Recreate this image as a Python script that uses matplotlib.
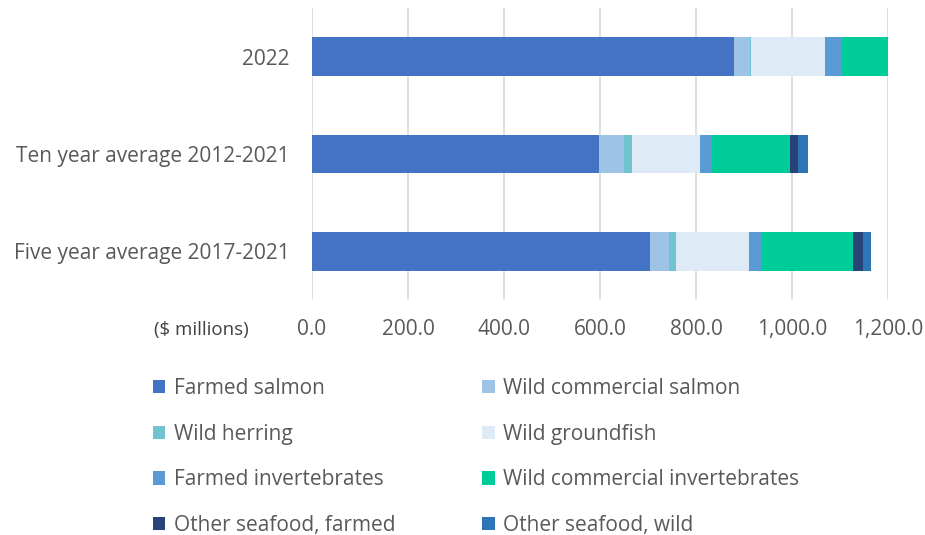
import matplotlib.pyplot as plt
import numpy as np

plt.rcParams['font.family'] = ['Open Sans', 'DejaVu Sans']

# Categories (top to bottom) and series values, $ millions
categories = ['2022', 'Ten year average 2012-2021', 'Five year average 2017-2021']
series_names = ['Farmed salmon', 'Wild commercial salmon', 'Wild herring', 'Wild groundfish',
                'Farmed invertebrates', 'Wild commercial invertebrates',
                'Other seafood, farmed', 'Other seafood, wild']
farmed_salmon = [880, 597, 704]
wild_salmon = [33, 54, 40]
wild_herring = [1, 16, 14]
wild_groundfish = [155, 141, 152]
farmed_invert = [36, 25, 27]
wild_invert = [97, 162, 191]
other_farmed = [0, 17, 19]
other_wild = [0, 21, 17]
series_values = [farmed_salmon, wild_salmon, wild_herring, wild_groundfish,
                 farmed_invert, wild_invert, other_farmed, other_wild]
colors = ['#4472C4', '#9DC3E6', '#70C4D0', '#DEEBF7', '#5B9BD5', '#00CC99', '#264478', '#2E75B6']
xticks = [0, 200, 400, 600, 800, 1000, 1200]

fig = plt.figure(figsize=(9.25, 5.35), dpi=100)
ax = fig.add_axes([312 / 925, 1 - 300 / 535, 576 / 925, 292 / 535])

y = np.arange(len(categories))
left = np.zeros(len(categories))
handles = []
for name, vals, c in zip(series_names, series_values, colors):
    vals = np.array(vals, dtype=float)
    h = ax.barh(y, vals, left=left, height=0.4, color=c, label=name, zorder=3)
    handles.append(h)
    left += vals

ax.set_xlim(0, 1200)
ax.set_ylim(2.5, -0.5)
ax.set_yticks(y)
ax.set_yticklabels(categories, fontsize=15, color='#595959')
ax.set_xticks(xticks)
ax.set_xticklabels([f'{v:,.1f}' for v in xticks], fontsize=15, color='#595959')
ax.tick_params(axis='both', length=0)
ax.tick_params(axis='x', pad=14)
ax.tick_params(axis='y', pad=16)
ax.grid(axis='x', color='#D9D9D9', linewidth=1.2, zorder=0)
for s in ax.spines.values():
    s.set_visible(False)

fig.text(201 / 925, 1 - 330 / 535, '($ millions)', fontsize=13.5, color='#404040',
         ha='center', va='center')

# Legend: two columns, filled row by row
order = [0, 2, 4, 6, 1, 3, 5, 7]
fig.legend([handles[i] for i in order], [series_names[i] for i in order],
           ncol=2, frameon=False, loc='upper left',
           bbox_to_anchor=(134 / 925, 1 - 359 / 535),
           fontsize=15, labelcolor='#595959',
           handlelength=0.6, handleheight=0.6, handletextpad=0.4,
           labelspacing=1.19, columnspacing=4.18)

plt.savefig('out.png', dpi=100)
